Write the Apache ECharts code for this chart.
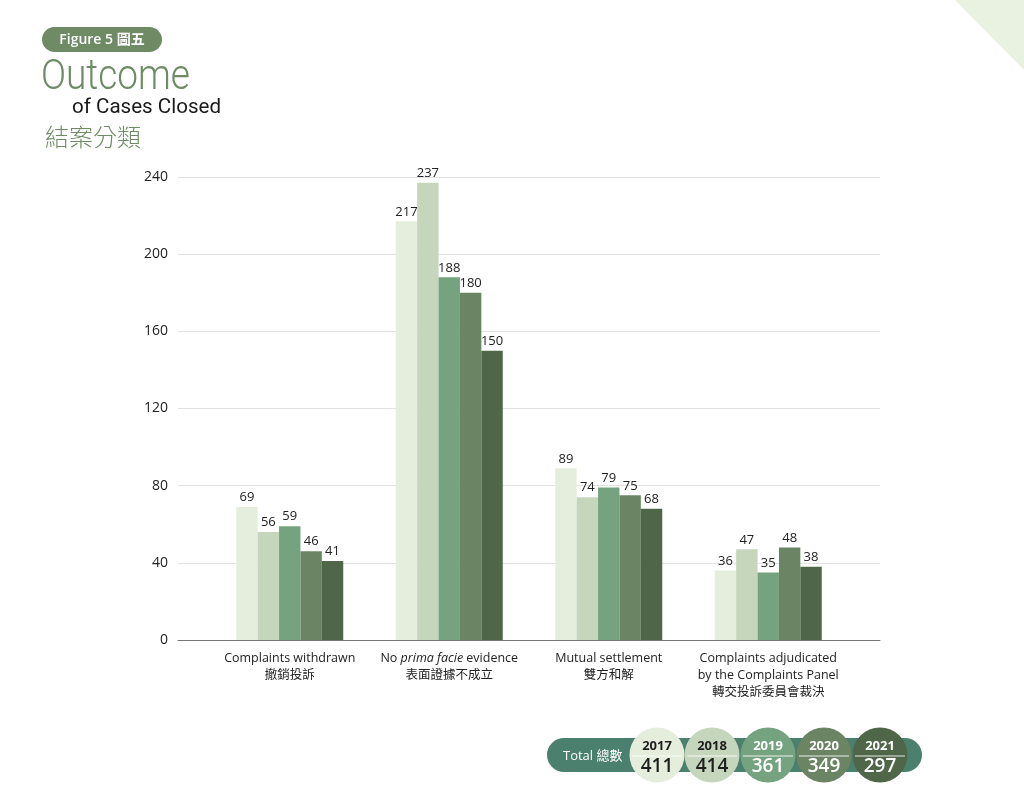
<!DOCTYPE html>
<html><head><meta charset="utf-8">
<script src="https://cdn.jsdelivr.net/npm/echarts@6/dist/echarts.min.js"></script>
<style>html,body{margin:0;padding:0;background:#fff}#c{width:1024px;height:793px}</style>
</head><body><div id="c"></div>
<script>
const categories = ['Complaints withdrawn\n撤銷投訴', 'NOPRIMA', 'Mutual settlement\n雙方和解', 'Complaints adjudicated\nby the Complaints Panel\n轉交投訴委員會裁決'];
const years = ['2017', '2018', '2019', '2020', '2021'];
const v2017 = [69, 217, 89, 36];
const v2018 = [56, 237, 74, 47];
const v2019 = [59, 188, 79, 35];
const v2020 = [46, 180, 75, 48];
const v2021 = [41, 150, 68, 38];
const totals = [411, 414, 361, 349, 297];
const yTicks = [0, 40, 80, 120, 160, 200, 240];

const colors = ['#e5eedc', '#c5d6bd', '#76a37f', '#6b8564', '#4f6648'];
const textOnCircle = ['#1e1e1e', '#1e1e1e', '#ffffff', '#ffffff', '#ffffff'];
const seriesVals = [v2017, v2018, v2019, v2020, v2021];
const FONT = '"Open Sans", "Noto Sans CJK TC", sans-serif';

const chart = echarts.init(document.getElementById('c'));

const series = years.map((y, i) => ({
  name: y, type: 'bar', xAxisIndex: 1, yAxisIndex: 1,
  data: seriesVals[i], barWidth: 21.4, barGap: '0%',
  itemStyle: { color: colors[i] },
  label: { show: true, position: 'top', distance: 3, color: '#222', fontSize: 13, fontFamily: FONT }
}));

const graphics = [
  { type: 'polygon', shape: { points: [[955, 0], [1024, 0], [1024, 70]] }, style: { fill: '#e9f1e1' } },
  { type: 'rect', shape: { x: 42, y: 27, width: 120, height: 25, r: 12.5 }, style: { fill: '#6e8b65' } },
  { type: 'text', x: 102, y: 40, style: { text: 'Figure 5 圖五', fill: '#fff', font: '600 14px ' + FONT, align: 'center', verticalAlign: 'middle' } },
  { type: 'text', x: 41, y: 78, scaleX: 0.86, style: { text: 'Outcome', fill: '#6e8b65', font: '300 43px Roboto, sans-serif', verticalAlign: 'middle' } },
  { type: 'text', x: 72, y: 108, scaleX: 0.98, style: { text: 'of Cases Closed', fill: '#1a1a1a', font: '21px Roboto, sans-serif', verticalAlign: 'middle' } },
  { type: 'text', x: 45, y: 137, style: { text: '結案分類', fill: '#6e8b65', font: '300 24px "Noto Sans CJK TC", sans-serif', verticalAlign: 'middle' } },
  { type: 'rect', shape: { x: 547, y: 738, width: 375, height: 34, r: 17 }, style: { fill: '#4b7f6e' } },
  { type: 'text', x: 563, y: 756, style: { text: 'Total 總數', fill: '#fff', font: '13px ' + FONT, verticalAlign: 'middle' } }
];
const cxs = [657, 712, 768, 824, 880];
years.forEach((y, i) => {
  const cx = cxs[i], cy = 755;
  graphics.push({ type: 'circle', shape: { cx: cx, cy: cy, r: 27.5 }, style: { fill: colors[i] } });
  graphics.push({ type: 'line', shape: { x1: cx - 25, y1: cy + 1, x2: cx + 25, y2: cy + 1 }, style: { stroke: 'rgba(255,255,255,0.85)', lineWidth: 1.2 } });
  graphics.push({ type: 'text', x: cx, y: cy - 9, style: { text: y, fill: textOnCircle[i], font: 'bold 13px ' + FONT, align: 'center', verticalAlign: 'middle' } });
  graphics.push({ type: 'text', x: cx, y: cy + 12, style: { text: String(totals[i]), fill: textOnCircle[i], font: '600 19px ' + FONT, align: 'center', verticalAlign: 'middle' } });
});

chart.setOption({
  animation: false,
  textStyle: { fontFamily: FONT },
  grid: [
    { left: 178, right: 144, top: 177, bottom: 153 },
    { left: 210, right: 176, top: 177, bottom: 153 }
  ],
  xAxis: [
    { type: 'value', gridIndex: 0, min: 0, max: 1, axisLabel: { show: false }, splitLine: { show: false }, axisTick: { show: false },
      axisLine: { show: true, lineStyle: { color: '#777', width: 1 } } },
    { type: 'category', gridIndex: 1, data: categories, axisLine: { show: false }, axisTick: { show: false },
      axisLabel: { margin: 10, color: '#222', fontSize: 12.5, lineHeight: 17, interval: 0,
        formatter: function (v) { return v === 'NOPRIMA' ? '{n|No }{i|prima facie}{n| evidence}\n{n|表面證據不成立}' : v; },
        rich: { n: { fontSize: 12.5, color: '#222', lineHeight: 17 }, i: { fontSize: 12.5, color: '#222', fontStyle: 'italic', lineHeight: 17 } } } }
  ],
  yAxis: [
    { type: 'value', gridIndex: 0, min: 0, max: 240, interval: 40, axisLine: { show: false }, axisTick: { show: false },
      axisLabel: { color: '#222', fontSize: 14, margin: 10 }, splitLine: { lineStyle: { color: '#e2e2e2', width: 1 } } },
    { type: 'value', gridIndex: 1, min: 0, max: 240, interval: 40, show: false, splitLine: { show: false } }
  ],
  series: series,
  graphic: graphics
});
</script></body></html>
